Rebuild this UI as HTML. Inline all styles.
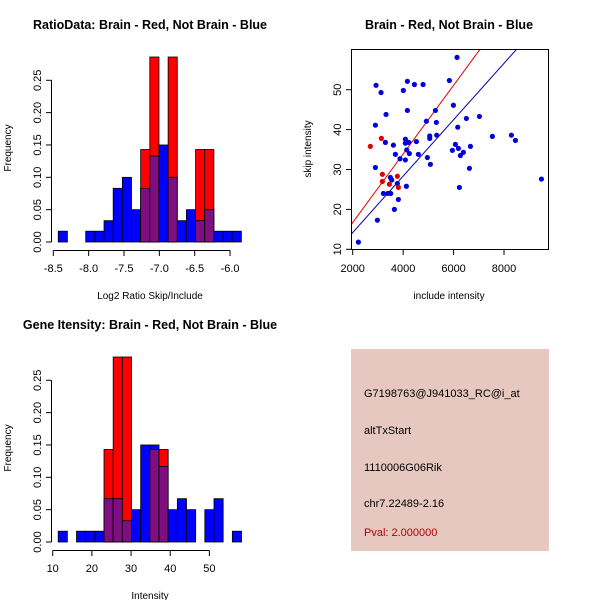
<!DOCTYPE html>
<html><head><meta charset="utf-8"><style>body{margin:0;background:#fff}svg{display:block;font-family:"Liberation Sans",sans-serif}</style></head>
<body>
<svg id="s" width="600" height="600" xmlns="http://www.w3.org/2000/svg">
<rect width="600" height="600" fill="#fff"/>
<g id="p1"></g>
<g id="p2"></g>
<g id="p3"></g>
<g>
<rect x="351" y="349" width="198" height="202" fill="#e6c8c0"/>
<text x="364" y="397" font-size="11">G7198763@J941033_RC@i_at</text>
<text x="364" y="434" font-size="11">altTxStart</text>
<text x="364" y="471" font-size="11">1110006G06Rik</text>
<text x="364" y="507" font-size="11">chr7.22489-2.16</text>
<text x="364" y="536" font-size="11" fill="#b00000">Pval: 2.000000</text>
</g>
</svg>
<script>
// Ratio histogram data
const h1Start=-8.43, h1Width=0.1295;
const h1Blue=[0.0167,0,0,0.0167,0.0167,0.033,0.083,0.1,0.05,0.083,0.133,0.15,0.1,0.033,0.05,0.033,0.05,0.0167,0.0167,0.0167];
const h1Red=[0,0,0,0,0,0,0,0,0,0.143,0.286,0,0.286,0,0,0.143,0.143,0,0,0];
const h1XTicks=[-8.5,-8.0,-7.5,-7.0,-6.5,-6.0];
const h1XLabels=["-8.5","-8.0","-7.5","-7.0","-6.5","-6.0"];
// Intensity histogram data
const h3Start=11.4, h3Width=2.34;
const h3Blue=[0.0167,0,0.0167,0.0167,0.0167,0.067,0.067,0.033,0.05,0.15,0.15,0.117,0.05,0.067,0.05,0,0.05,0.067,0,0.0167];
const h3Red=[0,0,0,0,0,0.143,0.286,0.286,0,0,0.143,0.143,0,0,0,0,0,0,0,0];
const h3XTicks=[10,20,30,40,50];
const yTicks=[0,0.05,0.10,0.15,0.20,0.25];
const yLabels=["0.00","0.05","0.10","0.15","0.20","0.25"];
// Scatter data
const blueX=[2225,2925,3124,2900,2900,2978,3322,3296,3216,3388,3507,3494,3547,3613,3653,3692,3772,3811,3877,4009,4089,4089,4089,4142,4128,4168,4168,4221,4247,4446,4525,4604,4790,4922,4961,5054,5054,5080,5279,5318,5331,5834,5993,5953,6072,6138,6165,6191,6231,6270,6389,6508,6627,6667,7024,7539,8293,8452,9483];
const blueY=[11.8,51.1,49.3,41.1,30.5,17.3,43.8,36.8,24.0,24.0,24.0,28.0,27.4,36.1,20.0,33.8,26.5,22.5,32.7,49.8,32.4,37.6,36.6,34.9,25.8,52.1,44.8,36.8,34.0,51.3,37.0,33.8,51.3,42.1,33.0,38.4,37.8,31.3,44.8,41.8,38.6,52.3,46.1,34.8,36.3,58.1,40.6,35.3,25.5,33.5,34.3,42.8,30.3,35.8,43.3,38.3,38.6,37.3,27.6];
const redX=[2700,3137,3177,3177,3454,3772,3811];
const redY=[35.8,37.8,28.8,27.0,26.3,28.3,25.5];
const redLine=[16.7,0.0086];   // intercept at x=2000, slope
const blueLine=[14.2,0.00707];
const sxTicks=[2000,4000,6000,8000];
const syTicks=[10,20,30,40,50];

const NS="http://www.w3.org/2000/svg";
function mk(p,t,a,txt){const e=document.createElementNS(NS,t);for(const k in a)e.setAttribute(k,a[k]);if(txt!==undefined)e.textContent=txt;p.appendChild(e);return e;}

function hist(g,oy,start,w,blue,red,xt,xl,xsx,xsc,title,xlab){
  const X=v=>xsx+(v-xt[0])*xsc, Y=v=>oy+242-v*646.8;
  let t=mk(g,'text',{x:150,y:oy+29,'font-size':12.5,'font-weight':'bold','text-anchor':'middle'},title);
  
  for(let i=0;i<blue.length;i++){
    const x0=X(start+i*w), x1=X(start+(i+1)*w), b=blue[i], r=red[i], m=Math.min(b,r), mx=Math.max(b,r);
    if(mx<=0) continue;
    const top=b>=r?'#0000ff':'#ff0000';
    let e=mk(g,'rect',{x:x0,y:Y(mx),width:x1-x0,height:Y(0)-Y(mx),fill:top,stroke:'#000','stroke-width':0.8});
    
    if(m>0){e=mk(g,'rect',{x:x0,y:Y(m),width:x1-x0,height:Y(0)-Y(m),fill:'#7f0f80',stroke:'#000','stroke-width':0.8});
      }
  }
  mk(g,'line',{x1:X(xt[0]),x2:X(xt[xt.length-1]),y1:oy+250.5,y2:oy+250.5,stroke:'#000'});
  xt.forEach((v,i)=>{mk(g,'line',{x1:X(v),x2:X(v),y1:oy+250.5,y2:oy+256,stroke:'#000'});
    const e=mk(g,'text',{x:X(v),y:oy+272,'font-size':11,'text-anchor':'middle'},xl[i]);
    });
  mk(g,'line',{x1:51.5,x2:51.5,y1:Y(0),y2:Y(0.25),stroke:'#000'});
  yTicks.forEach((v,i)=>{mk(g,'line',{x1:46,x2:51.5,y1:Y(v),y2:Y(v),stroke:'#000'});
    const e=mk(g,'text',{x:0,y:0,'font-size':11,'text-anchor':'middle',transform:`translate(41,${Y(v)}) rotate(-90)`},yLabels[i]);
    });
  t=mk(g,'text',{x:150,y:oy+299,'font-size':10,'text-anchor':'middle'},xlab);
  
  t=mk(g,'text',{x:0,y:0,'font-size':10,'text-anchor':'middle',transform:`translate(11,${oy+148}) rotate(-90)`},'Frequency');
  
}
hist(document.getElementById('p1'),0,h1Start,h1Width,h1Blue,h1Red,h1XTicks,h1XLabels,53.3,70.7,'RatioData: Brain - Red, Not Brain - Blue','Log2 Ratio Skip/Include');
hist(document.getElementById('p3'),300,h3Start,h3Width,h3Blue,h3Red,h3XTicks,h3XTicks.map(String),52.7,3.917,'Gene Itensity: Brain - Red, Not Brain - Blue','Intensity');

// scatter
(function(){
  const g=document.getElementById('p2');
  const X=v=>352.7+(v-2000)*0.02522, Y=v=>249.3-(v-10)*3.99;
  let t=mk(g,'text',{x:449,y:29,'font-size':12.5,'font-weight':'bold','text-anchor':'middle'},'Brain - Red, Not Brain - Blue');
  
  mk(g,'defs',{}).innerHTML='<clipPath id="cp"><rect x="351" y="49" width="197.5" height="200.5"/></clipPath>';
  const lg=mk(g,'g',{'clip-path':'url(#cp)'});
  let e=mk(lg,'line',{x1:X(1800),y1:Y(redLine[0]-200*redLine[1]),x2:X(10000),y2:Y(redLine[0]+8000*redLine[1]),stroke:'#dd0000'});
  
  e=mk(lg,'line',{x1:X(1800),y1:Y(blueLine[0]-200*blueLine[1]),x2:X(10000),y2:Y(blueLine[0]+8000*blueLine[1]),stroke:'#0000aa'});
  
  blueX.forEach((v,i)=>{const c=mk(lg,'circle',{cx:X(v),cy:Y(blueY[i]),r:2.6,fill:'#0000dd'});
    });
  redX.forEach((v,i)=>{const c=mk(lg,'circle',{cx:X(v),cy:Y(redY[i]),r:2.6,fill:'#dd0000'});
    });
  mk(g,'rect',{x:351.5,y:49.5,width:197,height:200,fill:'none',stroke:'#000'});
  sxTicks.forEach(v=>{mk(g,'line',{x1:X(v),x2:X(v),y1:249.5,y2:255,stroke:'#000'});
    const e=mk(g,'text',{x:X(v),y:272,'font-size':11,'text-anchor':'middle'},String(v));
    });
  syTicks.forEach(v=>{mk(g,'line',{x1:346,x2:351.5,y1:Y(v),y2:Y(v),stroke:'#000'});
    const e=mk(g,'text',{x:0,y:0,'font-size':11,'text-anchor':'middle',transform:`translate(341,${Y(v)}) rotate(-90)`},String(v));
    });
  t=mk(g,'text',{x:449,y:299,'font-size':10,'text-anchor':'middle'},'include intensity');
  
  t=mk(g,'text',{x:0,y:0,'font-size':10,'text-anchor':'middle',transform:'translate(311,149) rotate(-90)'},'skip intensity');
  
})();
</script>
</body></html>
